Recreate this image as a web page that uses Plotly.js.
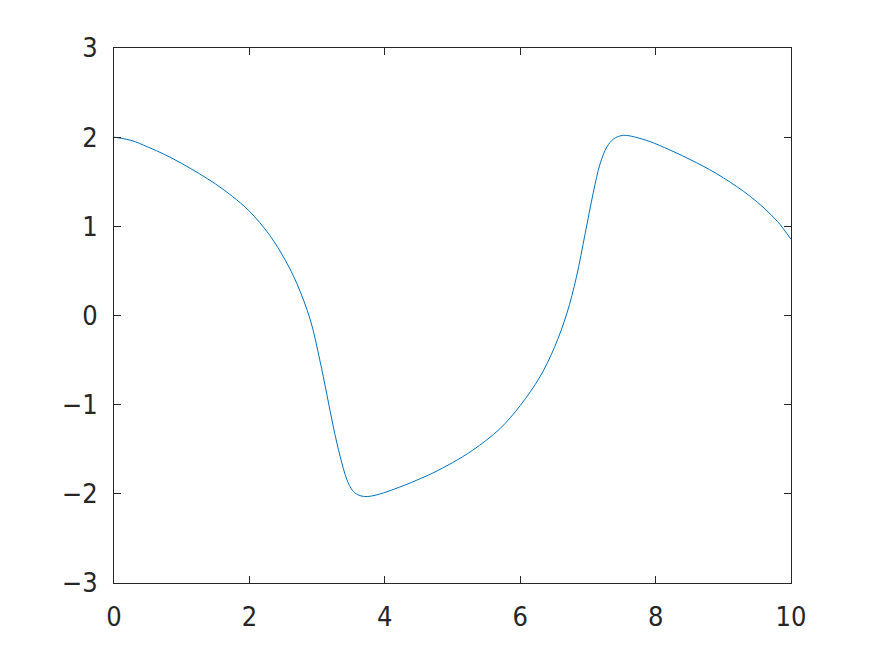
<!DOCTYPE html>
<html><head><meta charset="utf-8">
<script src="https://cdn.plot.ly/plotly-3.0.1.min.js"></script>
<style>html,body{margin:0;padding:0;background:#fff;}</style>
</head><body>
<div id="chart" style="width:875px;height:656px;"></div>
<script>
const tValues = [0, 0.25, 0.5, 0.75, 1.0, 1.25, 1.5, 1.75, 2.0, 2.3, 2.53, 2.7, 2.9, 3.04, 3.14, 3.24, 3.34, 3.44, 3.52, 3.6, 3.7, 3.8, 3.98, 4.2, 4.4, 4.7, 5.0, 5.3, 5.7, 6.0, 6.29, 6.51, 6.69, 6.83, 6.96, 7.08, 7.18, 7.28, 7.38, 7.48, 7.57, 7.7, 7.92, 8.2, 8.4, 8.6, 8.8, 9.0, 9.2, 9.4, 9.6, 9.8, 10.0];
const yValues = [2.0, 1.965, 1.89, 1.805, 1.705, 1.595, 1.475, 1.335, 1.17, 0.90, 0.62, 0.36, -0.05, -0.50, -0.87, -1.25, -1.58, -1.84, -1.96, -2.01, -2.03, -2.025, -1.99, -1.93, -1.87, -1.77, -1.65, -1.51, -1.27, -1.01, -0.69, -0.35, 0.025, 0.43, 0.92, 1.38, 1.70, 1.89, 1.98, 2.015, 2.02, 2.0, 1.95, 1.86, 1.79, 1.715, 1.635, 1.545, 1.445, 1.335, 1.205, 1.055, 0.855];
const xTicks = [0, 2, 4, 6, 8, 10];
const yTicks = [-3, -2, -1, 0, 1, 2, 3];
const yTickText = ['\u22123', '\u22122', '\u22121', '0', '1', '2', '3'];

const axisCommon = {
  showgrid: false, zeroline: false, showline: true, mirror: 'ticks',
  linecolor: '#262626', linewidth: 1,
  ticks: 'inside', ticklen: 7, tickcolor: '#262626', tickwidth: 1,
  tickfont: {family: 'DejaVu Sans Condensed, Liberation Sans, sans-serif', size: 27, color: '#262626'},
  ticklabelstandoff: 10
};

Plotly.newPlot('chart', [{
  x: tValues, y: yValues, type: 'scatter', mode: 'lines',
  line: {color: '#0072BD', width: 1, shape: 'spline', smoothing: 1},
  showlegend: false, hoverinfo: 'skip'
}], {
  width: 875, height: 656,
  margin: {l: 114, r: 84, t: 48, b: 73},
  paper_bgcolor: '#ffffff', plot_bgcolor: '#ffffff',
  xaxis: Object.assign({}, axisCommon, {range: [0, 10], tickvals: xTicks, ticktext: xTicks.map(String)}),
  yaxis: Object.assign({}, axisCommon, {range: [-3, 3], tickvals: yTicks, ticktext: yTickText})
}, {displayModeBar: false, staticPlot: true});
</script>
</body></html>
